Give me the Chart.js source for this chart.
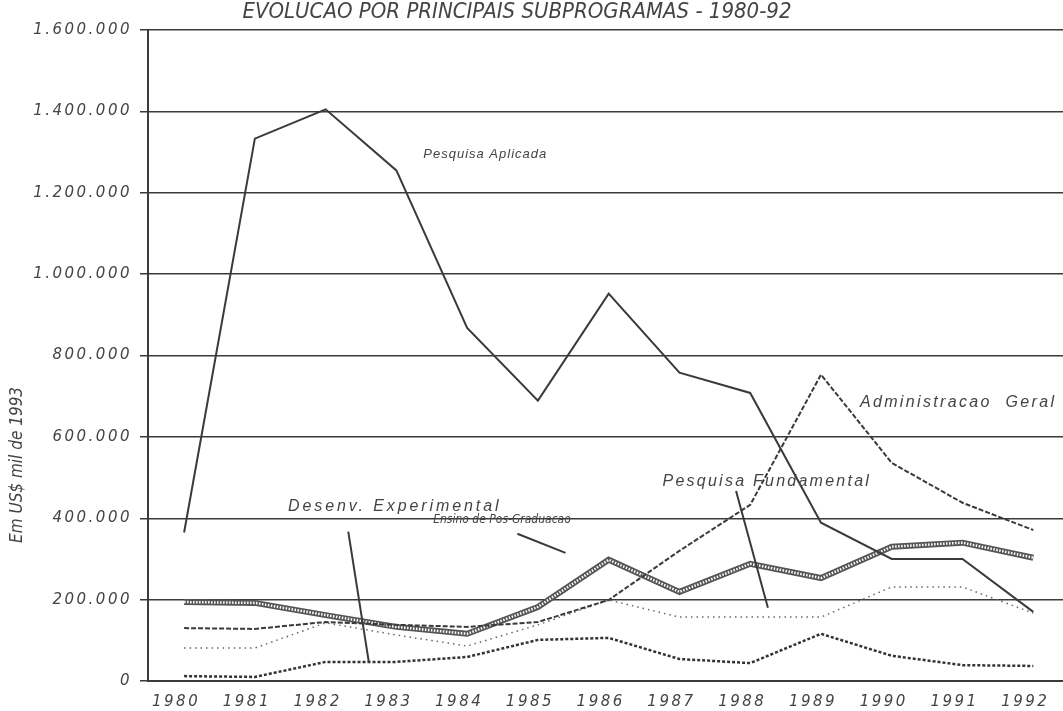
<!DOCTYPE html>
<html>
<head>
<meta charset="UTF-8">
<title>Evolucao por principais subprogramas - 1980-92</title>
<script src="https://cdn.jsdelivr.net/npm/chart.js"></script>
<style>
  html, body { margin: 0; padding: 0; background: #fff; }
  #wrap { width: 1063px; height: 711px; }
</style>
</head>
<body>
<div id="wrap"><canvas id="chart" width="1063" height="711"></canvas></div>
<script>
// valores em US$ mil de 1993
const years = [1980, 1981, 1982, 1983, 1984, 1985, 1986, 1987, 1988, 1989, 1990, 1991, 1992];
const pesquisaAplicada    = [365000, 1333000, 1405000, 1255000, 868000, 689000, 952000, 758000, 708000, 389000, 300000, 300000, 170000];
const administracaoGeral  = [130000, 128000, 145000, 138000, 133000, 145000, 199000, 320000, 433000, 753000, 536000, 438000, 371000];
const pesquisaFundamental = [81000, 81000, 143000, 113000, 86000, 138000, 199000, 157000, 157000, 157000, 231000, 231000, 167000];
const ensinoPosGraduacao  = [194000, 192000, 162000, 133000, 116000, 182000, 298000, 219000, 288000, 253000, 330000, 340000, 303000];
const desenvExperimental  = [12000, 10000, 47000, 47000, 59000, 101000, 106000, 54000, 44000, 116000, 62000, 39000, 37000];
const yTicks = [0, 200000, 400000, 600000, 800000, 1000000, 1200000, 1400000, 1600000];

const titleText = 'EVOLUCAO POR PRINCIPAIS SUBPROGRAMAS - 1980-92';
const yAxisText = 'Em US$ mil de 1993';

// rotulos das series, em unidades dos dados
const seriesLabels = [
  { text: 'Pesquisa Aplicada', x: 1983.38, y: 1294000, size: 13, spacing: 1, narrow: false },
  { text: 'Administracao  Geral', x: 1989.55, y: 684000, size: 16, spacing: 2.35, narrow: false },
  { text: 'Pesquisa Fundamental', x: 1986.76, y: 489000, size: 16, spacing: 2.25, narrow: false },
  { text: 'Desenv. Experimental', x: 1981.47, y: 428000, size: 16, spacing: 2.9, narrow: false },
  { text: 'Ensino de Pos-Graduacao', x: 1983.52, y: 396000, size: 12, spacing: 0, narrow: true }
];
const pointers = [
  [[1982.32, 367000], [1982.61, 47000]],
  [[1984.71, 362000], [1985.39, 315000]],
  [[1987.80, 467000], [1988.25, 180000]]
];

const ink = '#3a3a3a';
const xy = arr => years.map((x, i) => ({ x: x, y: arr[i] }));
const fmt = v => String(v).replace(/\B(?=(\d{3})+(?!\d))/g, '.');

const extras = {
  id: 'extras',
  beforeDraw(chart) {
    chart.ctx.letterSpacing = '2.5px';
  },
  afterDraw(chart) {
    const ctx = chart.ctx;
    const xs = chart.scales.x, ys = chart.scales.y;
    ctx.save();
    ctx.fillStyle = '#444';

    // titulo
    ctx.letterSpacing = '0px';
    ctx.font = 'italic 22px "Liberation Sans Narrow", "DejaVu Sans Condensed", sans-serif';
    ctx.textAlign = 'center';
    ctx.textBaseline = 'middle';
    ctx.fillText(titleText, 517, 12);

    // titulo do eixo y
    ctx.save();
    ctx.translate(18, ys.getPixelForValue(531000));
    ctx.rotate(-Math.PI / 2);
    ctx.font = 'italic 17px "Liberation Sans Narrow", "DejaVu Sans Condensed", sans-serif';
    ctx.fillText(yAxisText, 0, 0);
    ctx.restore();

    // rotulos das series
    ctx.textAlign = 'left';
    seriesLabels.forEach(l => {
      ctx.letterSpacing = l.spacing + 'px';
      const fam = l.narrow ? '"Liberation Sans Narrow", "DejaVu Sans Condensed", sans-serif'
                           : '"Liberation Sans", Arial, sans-serif';
      ctx.font = 'italic ' + l.size + 'px ' + fam;
      ctx.fillText(l.text, xs.getPixelForValue(l.x), ys.getPixelForValue(l.y));
    });

    // setas
    ctx.strokeStyle = ink;
    ctx.lineWidth = 2;
    pointers.forEach(p => {
      ctx.beginPath();
      ctx.moveTo(xs.getPixelForValue(p[0][0]), ys.getPixelForValue(p[0][1]));
      ctx.lineTo(xs.getPixelForValue(p[1][0]), ys.getPixelForValue(p[1][1]));
      ctx.stroke();
    });
    ctx.restore();
  }
};

new Chart(document.getElementById('chart'), {
  type: 'line',
  data: {
    datasets: [
      { label: 'Pesquisa Aplicada', data: xy(pesquisaAplicada), borderColor: ink, borderWidth: 2 },
      { label: 'Administracao Geral', data: xy(administracaoGeral), borderColor: ink, borderWidth: 2, borderDash: [5, 2] },
      { label: 'Pesquisa Fundamental', data: xy(pesquisaFundamental), borderColor: '#666', borderWidth: 1.5, borderDash: [1.5, 4] },
      { label: 'Ensino de Pos-Graduacao', data: xy(ensinoPosGraduacao), borderColor: '#fff', borderWidth: 2.5, borderDash: [1.5, 1.5] },
      { label: 'Ensino de Pos-Graduacao (fundo)', data: xy(ensinoPosGraduacao), borderColor: '#555', borderWidth: 6 },
      { label: 'Desenv. Experimental', data: xy(desenvExperimental), borderColor: '#333', borderWidth: 2.5, borderDash: [3, 2] }
    ]
  },
  options: {
    responsive: false,
    animation: false,
    devicePixelRatio: 1,
    elements: { point: { radius: 0 }, line: { tension: 0 } },
    layout: { padding: { top: 30, right: 0, left: 0, bottom: 0 } },
    plugins: {
      legend: { display: false },
      title: { display: false },
      tooltip: { enabled: false }
    },
    scales: {
      x: {
        type: 'linear',
        min: 1979.49,
        max: 1992.42,
        afterBuildTicks: s => { s.ticks = years.map(v => ({ value: v })); },
        afterFit: s => { s.height = 30; },
        grid: { display: false },
        border: { display: true, color: ink, width: 2, dash: [68.75, 2], dashOffset: 33.75 },
        ticks: {
          autoSkip: false,
          maxRotation: 0,
          padding: 4,
          labelOffset: -8,
          color: '#444',
          font: { family: '"DejaVu Sans", sans-serif', size: 15, style: 'italic' },
          callback: v => String(v)
        }
      },
      y: {
        min: 0,
        max: 1600000,
        afterBuildTicks: s => { s.ticks = yTicks.map(v => ({ value: v })); },
        afterFit: s => { s.width = 148; },
        grid: {
          color: c => (c.tick && c.tick.value === 0 ? 'rgba(0,0,0,0)' : ink),
          tickColor: ink,
          lineWidth: 1.5,
          tickLength: 8,
          drawTicks: true
        },
        border: { display: true, color: ink, width: 2 },
        ticks: {
          padding: 8,
          color: '#444',
          font: { family: '"DejaVu Sans", sans-serif', size: 15, style: 'italic' },
          callback: v => fmt(v)
        }
      }
    }
  },
  plugins: [extras]
});
</script>
</body>
</html>
